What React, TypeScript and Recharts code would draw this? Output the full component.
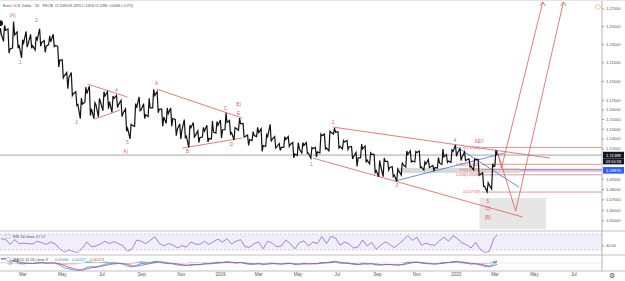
import React from 'react';
import { ComposedChart, LineChart, Line, Area, XAxis, YAxis, ReferenceLine, ReferenceArea, ReferenceDot } from 'recharts';

// ---------- price data (weekly) ----------
const dates = [
  '2018-01-26','2018-02-02','2018-02-09','2018-02-16','2018-02-23','2018-03-02','2018-03-09','2018-03-16','2018-03-23','2018-03-30',
  '2018-04-06','2018-04-13','2018-04-20','2018-04-27','2018-05-04','2018-05-11','2018-05-18','2018-05-25','2018-06-01','2018-06-08',
  '2018-06-15','2018-06-22','2018-06-29','2018-07-06','2018-07-13','2018-07-20','2018-07-27','2018-08-03','2018-08-10','2018-08-17',
  '2018-08-24','2018-08-31','2018-09-07','2018-09-14','2018-09-21','2018-09-28','2018-10-05','2018-10-12','2018-10-19','2018-10-26',
  '2018-11-02','2018-11-09','2018-11-16','2018-11-23','2018-11-30','2018-12-07','2018-12-14','2018-12-21','2018-12-28',
  '2019-01-04','2019-01-11','2019-01-18','2019-01-25','2019-02-01','2019-02-08','2019-02-15','2019-02-22','2019-03-01','2019-03-08',
  '2019-03-15','2019-03-22','2019-03-29','2019-04-05','2019-04-12','2019-04-19','2019-04-26','2019-05-03','2019-05-10','2019-05-17',
  '2019-05-24','2019-05-31','2019-06-07','2019-06-14','2019-06-21','2019-06-28','2019-07-05','2019-07-12','2019-07-19','2019-07-26',
  '2019-08-02','2019-08-09','2019-08-16','2019-08-23','2019-08-30','2019-09-06','2019-09-13','2019-09-20','2019-09-27','2019-10-04',
  '2019-10-11','2019-10-18','2019-10-25','2019-11-01','2019-11-08','2019-11-15','2019-11-22','2019-11-29','2019-12-06','2019-12-13',
  '2019-12-20','2019-12-27',
  '2020-01-03','2020-01-10','2020-01-17','2020-01-24','2020-01-31','2020-02-07','2020-02-14','2020-02-21','2020-02-28','2020-03-04',
];
const highs = [
  1.2537,1.2522,1.2473,1.2556,1.2441,1.2353,1.2446,1.2413,1.2388,1.2476,
  1.2343,1.2396,1.2414,1.2282,1.2132,1.1996,1.1995,1.1790,1.1725,1.1840,
  1.1852,1.1675,1.1720,1.1790,1.1790,1.1745,1.1750,1.1700,1.1610,1.1450,
  1.1665,1.1735,1.1665,1.1720,1.1815,1.1790,1.1610,1.1620,1.1620,1.1500,
  1.1455,1.1500,1.1440,1.1470,1.1385,1.1420,1.1440,1.1485,1.1480,
  1.1495,1.1570,1.1490,1.1415,1.1514,1.1460,1.1340,1.1375,1.1420,1.1405,
  1.1345,1.1450,1.1325,1.1255,1.1325,1.1325,1.1265,1.1265,1.1265,1.1265,
  1.1215,1.1215,1.1350,1.1350,1.1380,1.1412,1.1375,1.1285,1.1285,1.1225,
  1.1165,1.1250,1.1230,1.1160,1.1145,1.1085,1.1110,1.1075,1.1025,1.1000,
  1.1065,1.1180,1.1180,1.1175,1.1180,1.1070,1.1095,1.1035,1.1115,1.1200,
  1.1145,1.1190,
  1.1239,1.1205,1.1170,1.1100,1.1100,1.1095,1.0965,1.0865,1.1053,1.1188,
];
const lows = [
  1.2216,1.2335,1.2206,1.2261,1.2260,1.2154,1.2272,1.2259,1.2240,1.2282,
  1.2215,1.2300,1.2278,1.2054,1.1937,1.1822,1.1750,1.1645,1.1510,1.1680,
  1.1541,1.1509,1.1527,1.1590,1.1612,1.1575,1.1625,1.1530,1.1380,1.1301,
  1.1430,1.1590,1.1510,1.1530,1.1620,1.1570,1.1430,1.1460,1.1430,1.1335,
  1.1300,1.1315,1.1216,1.1320,1.1265,1.1320,1.1270,1.1300,1.1360,
  1.1310,1.1395,1.1350,1.1290,1.1390,1.1320,1.1235,1.1285,1.1325,1.1175,
  1.1225,1.1275,1.1210,1.1185,1.1215,1.1225,1.1110,1.1135,1.1160,1.1155,
  1.1107,1.1120,1.1160,1.1200,1.1180,1.1350,1.1210,1.1200,1.1195,1.1100,
  1.1025,1.1110,1.1065,1.1050,1.0965,1.0925,1.0925,1.0990,1.0925,1.0879,
  1.0940,1.1020,1.1070,1.1070,1.1015,1.0990,1.1015,1.0980,1.1010,1.1045,
  1.1065,1.1065,
  1.1125,1.1085,1.1085,1.1020,1.0990,1.0940,1.0830,1.0778,1.0805,1.1030,
];
const closes = [
  1.2427,1.2459,1.2252,1.2406,1.2295,1.2317,1.2307,1.2288,1.2353,1.2324,
  1.2282,1.2330,1.2289,1.2130,1.1960,1.1940,1.1770,1.1655,1.1660,1.1770,
  1.1610,1.1655,1.1685,1.1745,1.1685,1.1720,1.1655,1.1565,1.1410,1.1440,
  1.1620,1.1600,1.1550,1.1620,1.1750,1.1605,1.1525,1.1560,1.1510,1.1400,
  1.1385,1.1330,1.1415,1.1335,1.1315,1.1380,1.1305,1.1370,1.1440,
  1.1395,1.1470,1.1365,1.1410,1.1455,1.1325,1.1295,1.1335,1.1365,1.1235,
  1.1325,1.1300,1.1220,1.1215,1.1295,1.1245,1.1150,1.1200,1.1235,1.1160,
  1.1205,1.1170,1.1335,1.1210,1.1370,1.1370,1.1225,1.1270,1.1220,1.1125,
  1.1110,1.1200,1.1090,1.1145,1.0985,1.1030,1.1075,1.1015,1.0940,1.0980,
  1.1040,1.1145,1.1080,1.1165,1.1020,1.1050,1.1020,1.1015,1.1060,1.1120,
  1.1080,1.1175,
  1.1160,1.1120,1.1090,1.1025,1.1095,1.0945,1.0830,1.0845,1.1026,1.11388,
];
const rsiValues = [
  58,57,44,56,46,47,46,45,52,48,
  44,50,45,33,25,30,26,24,35,50,
  38,40,45,52,46,51,46,40,27,33,
  55,52,46,54,63,47,40,46,43,35,
  41,37,50,45,44,52,44,51,57,
  50,58,45,52,56,38,37,46,50,33,
  52,47,38,40,55,46,33,48,53,40,
  50,46,64,46,64,60,42,50,45,35,
  38,55,40,49,32,42,50,44,36,45,
  55,66,54,62,42,47,43,42,53,62,
  52,66,
  58,48,43,35,49,32,24,26,58,67.37,
];
const macdValues = [
  0.0080,0.0075,0.0010,0.0030,-0.0005,-0.0015,-0.0005,-0.0008,0.0005,0.0008,
  -0.0005,0.0002,-0.0002,-0.0040,-0.0085,-0.0100,-0.0120,-0.0135,-0.0120,-0.0070,
  -0.0065,-0.0065,-0.0050,-0.0020,-0.0010,0.0000,-0.0005,-0.0020,-0.0055,-0.0070,
  -0.0040,-0.0010,-0.0005,0.0005,0.0030,0.0025,0.0000,-0.0010,-0.0015,-0.0035,
  -0.0040,-0.0045,-0.0030,-0.0025,-0.0025,-0.0010,-0.0010,0.0000,0.0015,
  0.0010,0.0025,0.0010,0.0000,0.0010,-0.0010,-0.0025,-0.0020,-0.0010,-0.0025,
  -0.0015,-0.0005,-0.0015,-0.0020,-0.0008,-0.0006,-0.0025,-0.0020,-0.0010,-0.0015,
  -0.0012,-0.0012,0.0010,0.0005,0.0020,0.0030,0.0000,-0.0005,-0.0008,-0.0025,
  -0.0030,-0.0010,-0.0015,-0.0012,-0.0035,-0.0035,-0.0025,-0.0025,-0.0035,-0.0035,
  -0.0020,0.0010,0.0015,0.0020,0.0000,-0.0012,-0.0015,-0.0020,-0.0008,0.0010,
  0.0010,0.0025,
  0.0025,0.0010,-0.0005,-0.0020,-0.0015,-0.0035,-0.0060,-0.0070,-0.0015,0.00227,
];
const signalValues = [
  0.0065,0.0072,0.0050,0.0035,0.0020,0.0005,-0.0005,-0.0007,-0.0004,0.0003,
  0.0001,0.0000,0.0000,-0.0015,-0.0045,-0.0075,-0.0095,-0.0115,-0.0122,-0.0100,
  -0.0085,-0.0075,-0.0062,-0.0045,-0.0028,-0.0015,-0.0010,-0.0012,-0.0025,-0.0050,
  -0.0055,-0.0040,-0.0025,-0.0010,0.0005,0.0018,0.0015,0.0002,-0.0008,-0.0018,
  -0.0030,-0.0038,-0.0038,-0.0032,-0.0028,-0.0020,-0.0015,-0.0010,-0.0002,
  0.0005,0.0012,0.0015,0.0008,0.0007,0.0002,-0.0010,-0.0017,-0.0015,-0.0018,
  -0.0020,-0.0012,-0.0012,-0.0016,-0.0014,-0.0010,-0.0015,-0.0019,-0.0015,-0.0014,
  -0.0013,-0.0012,-0.0004,0.0002,0.0008,0.0020,0.0015,0.0005,-0.0002,-0.0012,
  -0.0022,-0.0018,-0.0015,-0.0014,-0.0020,-0.0030,-0.0030,-0.0027,-0.0030,-0.0033,
  -0.0028,-0.0012,0.0005,0.0012,0.0010,0.0000,-0.0010,-0.0015,-0.0013,-0.0003,
  0.0005,0.0013,
  0.0020,0.0017,0.0008,-0.0005,-0.0012,-0.0020,-0.0038,-0.0055,-0.0048,-0.00213,
];

// ---------- axis ticks ----------
const PRICE_TICKS = [1.05, 1.06, 1.07, 1.08, 1.09, 1.12, 1.13, 1.14, 1.15, 1.16, 1.17, 1.19, 1.21, 1.23, 1.25, 1.27];
const TICK_DATES = ['2018-03-01','2018-05-01','2018-07-01','2018-09-01','2018-11-01','2019-01-01','2019-03-01','2019-05-01','2019-07-01','2019-09-01','2019-11-01','2020-01-01','2020-03-01','2020-05-01','2020-07-01'];
const TICK_LABELS = ['Mar','May','Jul','Sep','Nov','2019','Mar','May','Jul','Sep','Nov','2020','Mar','May','Jul'];

// ---------- drawings (anchored in date / price) ----------
const waveLabels = [
  { date: '2018-02-13', price: 1.2630, text: '(A)' },
  { date: '2018-03-22', price: 1.2573, text: '2' },
  { date: '2018-02-25', price: 1.2109, text: '1' },
  { date: '2018-05-23', price: 1.1474, text: '3' },
  { date: '2018-07-24', price: 1.1808, text: '4' },
  { date: '2018-08-10', price: 1.1269, text: '5' },
  { date: '2018-08-07', price: 1.1179, text: 'A)' },
  { date: '2018-09-24', price: 1.1883, text: 'A' },
  { date: '2018-11-11', price: 1.1179, text: 'B' },
  { date: '2019-01-09', price: 1.1619, text: 'C' },
  { date: '2019-01-29', price: 1.1660, text: 'B)' },
  { date: '2019-01-29', price: 1.1567, text: 'E' },
  { date: '2019-01-18', price: 1.1249, text: 'D' },
  { date: '2019-06-24', price: 1.1474, text: '2' },
  { date: '2019-05-22', price: 1.1049, text: '1' },
  { date: '2019-10-01', price: 1.0843, text: '3' },
  { date: '2019-12-30', price: 1.1290, text: '4' },
  { date: '2020-02-06', price: 1.1280, text: 'KEY' },
  { date: '2020-02-19', price: 1.0688, text: '5' },
  { date: '2020-02-19', price: 1.0621, text: 'C)' },
  { date: '2020-02-19', price: 1.0536, text: '(B)' },
];
const redLines = [
  [['2018-06-09', 1.1872], ['2018-08-10', 1.1734]],
  [['2018-06-20', 1.1504], ['2018-07-29', 1.1598]],
  [['2018-09-24', 1.1818], ['2019-02-04', 1.1515]],
  [['2018-11-03', 1.1209], ['2019-02-03', 1.1310]],
  [['2019-06-24', 1.1422], ['2020-05-25', 1.1109]],
  [['2019-05-24', 1.1109], ['2020-04-13', 1.0536]],
  [['2020-03-04', 1.1189], ['2020-03-11', 1.1010]],
  [['2020-03-11', 1.1010], ['2020-05-14', 1.2779]],
  [['2020-03-04', 1.1189], ['2020-04-02', 1.0593]],
  [['2020-04-02', 1.0593], ['2020-06-15', 1.2779]],
  // arrow heads
  [['2020-05-10', 1.2738], ['2020-05-14', 1.2779]],
  [['2020-05-18', 1.2733], ['2020-05-14', 1.2779]],
  [['2020-06-11', 1.2738], ['2020-06-15', 1.2779]],
  [['2020-06-19', 1.2733], ['2020-06-15', 1.2779]],
];
const blueLines = [
  [['2019-09-28', 1.0882], ['2020-03-16', 1.1159]],
  [['2020-01-02', 1.1219], ['2020-04-07', 1.0823]],
];
const fibLevels = [1.12148, 1.10469, 1.09949, 1.09430, 1.07749];
const fibNames = ['0', '0.382', '0.5', '0.618', '1'];
const FIB_START = '2020-02-09';
const targetBox = { from: '2020-02-06', to: '2020-05-19', low: 1.0423, high: 1.0717 };
const supportBand = { from: '2019-10-01', to: '2020-04-08', low: 1.0960, high: 1.1010 };
const LAST_PRICE = 1.11388;
const BLUE_LEVEL = 1.09870;

// ---------- helpers ----------
const dayOf = (s: string) => {
  const [y, m, d] = s.split('-').map(Number);
  return (Date.UTC(y, m - 1, d) - Date.UTC(2018, 0, 1)) / 86400000;
};
const X_DOMAIN: [number, number] = [23.4, 955.7];
const tickDays = TICK_DATES.map(dayOf);

const priceRows: { t: number; p: number }[] = [];
dates.forEach((d, i) => {
  const t = dayOf(d);
  const prev = i === 0 ? closes[0] : closes[i - 1];
  const up = closes[i] >= prev;
  priceRows.push({ t: t - 3.2, p: up ? lows[i] : highs[i] });
  priceRows.push({ t: t - 1.6, p: up ? highs[i] : lows[i] });
  priceRows.push({ t, p: closes[i] });
});
const rsiRows = dates.map((d, i) => ({ t: dayOf(d), r: rsiValues[i] }));
const macdRows = dates.map((d, i) => {
  const h = macdValues[i] - signalValues[i];
  return { t: dayOf(d), m: macdValues[i], s: signalValues[i], hp: h > 0 ? h : 0, hn: h < 0 ? h : 0 };
});

const FONT = 'Liberation Sans, Arial, sans-serif';
const RED = '#e05a5a';

const DotText = (props: any) => {
  const vb = props.viewBox || {};
  const cx = (vb.x || 0) + (vb.width || 0) / 2;
  const cy = (vb.y || 0) + (vb.height || 0) / 2;
  return (
    <text x={cx} y={cy + 1.5} textAnchor="middle" fontSize={4.6} fill={props.color} fontFamily={FONT}>{props.value}</text>
  );
};
const FibText = (props: any) => {
  const vb = props.viewBox || {};
  return (
    <text x={(vb.x || 0) - 1} y={(vb.y || 0) + 1.3} textAnchor="end" fontSize={3.6} fill={RED} fontFamily={FONT}>{props.value}</text>
  );
};
const PriceTag = (props: any) => {
  const vb = props.viewBox || {};
  const x = (vb.x || 0) + (vb.width || 0) + 1;
  const y = vb.y || 0;
  return (
    <g>
      <rect x={x} y={y - 3.3} width={21} height={6.6} fill={props.bg} />
      <text x={x + 10.5} y={y + 1.5} textAnchor="middle" fontSize={4.2} fill="#fff" fontFamily={FONT}>{props.value}</text>
      {props.sub ? (
        <g>
          <rect x={x} y={y + 3.3} width={21} height={6} fill={props.bg} />
          <text x={x + 10.5} y={y + 7.7} textAnchor="middle" fontSize={4} fill="#fff" fontFamily={FONT}>{props.sub}</text>
        </g>
      ) : null}
    </g>
  );
};

export default function App() {
  return (
    <div style={{ position: 'absolute', left: 0, top: 0, width: 625, height: 281, background: '#fff', overflow: 'hidden' }}>
      {/* main price pane */}
      <div style={{ position: 'absolute', left: 0, top: 0 }}>
        <ComposedChart width={625} height={231} data={priceRows} margin={{ top: 0, right: 0, bottom: 0, left: 0 }}>
          <XAxis dataKey="t" type="number" domain={X_DOMAIN} hide allowDataOverflow />
          <YAxis
            orientation="right"
            width={23}
            type="number"
            scale="log"
            domain={[1.0405, 1.2802]}
            allowDataOverflow
            ticks={PRICE_TICKS}
            interval={0}
            tickFormatter={(v: number) => v.toFixed(5)}
            tick={{ fontSize: 4, fill: '#555', fontFamily: FONT }}
            tickSize={2}
            tickMargin={2}
            axisLine={{ stroke: '#b5b5b5' }}
            tickLine={{ stroke: '#999' }}
          />
          <ReferenceArea x1={dayOf(targetBox.from)} x2={dayOf(targetBox.to)} y1={targetBox.low} y2={targetBox.high} fill="#e6e6e6" fillOpacity={1} stroke="none" ifOverflow="hidden" />
          <ReferenceArea x1={dayOf(supportBand.from)} x2={dayOf(supportBand.to)} y1={supportBand.low} y2={supportBand.high} fill="#cfcfcf" fillOpacity={0.8} stroke="none" ifOverflow="hidden" />
          <ReferenceLine segment={[{ x: dayOf(supportBand.to), y: BLUE_LEVEL }, { x: X_DOMAIN[1], y: BLUE_LEVEL }]} stroke="#c9bdf0" strokeWidth={3} ifOverflow="hidden" />
          <ReferenceLine y={LAST_PRICE} stroke="#8a8a8a" strokeWidth={0.8} ifOverflow="hidden" label={<PriceTag value="1.11388" sub="03:50:58" bg="#131722" />} />
          <ReferenceLine y={BLUE_LEVEL} stroke="none" ifOverflow="hidden" label={<PriceTag value="1.09870" bg="#2f5bff" />} />
          {fibLevels.map((lv, i) => (
            <ReferenceLine
              key={'fib' + i}
              segment={[{ x: dayOf(FIB_START), y: lv }, { x: X_DOMAIN[1], y: lv }]}
              stroke="#d96a6a"
              strokeWidth={0.7}
              ifOverflow="hidden"
              label={<FibText value={`${fibNames[i]}(${lv.toFixed(5)})`} />}
            />
          ))}
          {redLines.map((seg, i) => (
            <ReferenceLine
              key={'r' + i}
              segment={[{ x: dayOf(seg[0][0] as string), y: seg[0][1] as number }, { x: dayOf(seg[1][0] as string), y: seg[1][1] as number }]}
              stroke={RED}
              strokeWidth={0.8}
              ifOverflow="hidden"
            />
          ))}
          {blueLines.map((seg, i) => (
            <ReferenceLine
              key={'b' + i}
              segment={[{ x: dayOf(seg[0][0] as string), y: seg[0][1] as number }, { x: dayOf(seg[1][0] as string), y: seg[1][1] as number }]}
              stroke="#3f6fd8"
              strokeWidth={0.8}
              ifOverflow="hidden"
            />
          ))}
          <Line dataKey="p" type="linear" stroke="#111" strokeWidth={1.2} dot={false} isAnimationActive={false} />
          {waveLabels.map((l, i) => (
            <ReferenceDot key={'w' + i} x={dayOf(l.date)} y={l.price} r={1} fill="none" stroke="none" label={<DotText value={l.text} color={RED} />} />
          ))}
        </ComposedChart>
      </div>

      {/* RSI pane */}
      <div style={{ position: 'absolute', left: 0, top: 231 }}>
        <LineChart width={625} height={24} data={rsiRows} margin={{ top: 0, right: 0, bottom: 0, left: 0 }}>
          <XAxis dataKey="t" type="number" domain={X_DOMAIN} hide allowDataOverflow />
          <YAxis
            orientation="right"
            width={23}
            type="number"
            domain={[17.5, 77.5]}
            allowDataOverflow
            ticks={[40]}
            tickFormatter={(v: number) => v.toFixed(2)}
            tick={{ fontSize: 4, fill: '#555', fontFamily: FONT }}
            tickSize={2}
            tickMargin={2}
            axisLine={{ stroke: '#b5b5b5' }}
            tickLine={{ stroke: '#999' }}
          />
          <ReferenceArea y1={30} y2={70} fill="#9575cd" fillOpacity={0.13} stroke="none" />
          <ReferenceLine y={70} stroke="#c0b0e0" strokeDasharray="2 2" strokeWidth={0.6} />
          <ReferenceLine y={30} stroke="#c0b0e0" strokeDasharray="2 2" strokeWidth={0.6} />
          <Line dataKey="r" type="linear" stroke="#7e57c2" strokeWidth={0.7} dot={false} isAnimationActive={false} />
        </LineChart>
      </div>

      {/* MACD pane + date axis */}
      <div style={{ position: 'absolute', left: 0, top: 255 }}>
        <ComposedChart width={625} height={26} data={macdRows} margin={{ top: 0, right: 0, bottom: 0, left: 0 }}>
          <XAxis
            dataKey="t"
            type="number"
            domain={X_DOMAIN}
            allowDataOverflow
            ticks={tickDays}
            interval={0}
            tickFormatter={(v: number) => TICK_LABELS[tickDays.indexOf(v)] || ''}
            height={10}
            tick={{ fontSize: 4.5, fill: '#555', fontFamily: FONT }}
            tickLine={false}
            axisLine={false}
            tickSize={0}
            tickMargin={2}
          />
          <YAxis
            orientation="right"
            width={23}
            type="number"
            domain={[-0.014, 0.014]}
            allowDataOverflow
            ticks={[0]}
            tickFormatter={(v: number) => v.toFixed(5)}
            tick={{ fontSize: 4, fill: '#555', fontFamily: FONT }}
            tickSize={2}
            tickMargin={2}
            axisLine={{ stroke: '#b5b5b5' }}
            tickLine={{ stroke: '#999' }}
          />
          <ReferenceLine y={0} stroke="#ddd" strokeWidth={0.5} />
          <Area dataKey="hp" type="linear" baseValue={0} fill="#26a69a" fillOpacity={0.7} stroke="none" isAnimationActive={false} />
          <Area dataKey="hn" type="linear" baseValue={0} fill="#ef9a9a" fillOpacity={0.7} stroke="none" isAnimationActive={false} />
          <Line dataKey="m" type="linear" stroke="#2196f3" strokeWidth={0.8} dot={false} isAnimationActive={false} />
          <Line dataKey="s" type="linear" stroke="#c2418f" strokeWidth={0.8} dot={false} isAnimationActive={false} />
        </ComposedChart>
      </div>

      {/* overlay: separators, header and pane legends */}
      <svg width={625} height={281} style={{ position: 'absolute', left: 0, top: 0, pointerEvents: 'none' }} fontFamily={FONT}>
        <line x1={0} x2={625} y1={0.5} y2={0.5} stroke="#e4e4e4" />
        <line x1={0} x2={625} y1={231} y2={231} stroke="#b0b0b0" strokeWidth={0.8} />
        <line x1={0} x2={625} y1={255} y2={255} stroke="#b0b0b0" strokeWidth={0.8} />
        <line x1={0} x2={625} y1={271} y2={271} stroke="#b0b0b0" strokeWidth={0.8} />
        <text x={3} y={7} fontSize={4} fill="#444" textLength={50} lengthAdjust="spacingAndGlyphs">Euro / U.S. Dollar · 1D · FXCM</text>
        <text x={55} y={7} fontSize={4} fill="#444" textLength={78} lengthAdjust="spacingAndGlyphs">O1.11694 H1.11876 L1.10954 C1.11388 −0.00306 (−0.27%)</text>
        <circle cx={598} cy={7} r={2.4} fill="none" stroke="#f0a050" strokeWidth={0.6} />
        <rect x={6} y={234.5} width={4} height={3.5} rx={0.8} fill="#fff" stroke="#888" strokeWidth={0.4} />
        <text x={13} y={237.8} fontSize={3.8} fill="#444">RSI 14 close</text>
        <text x={36} y={237.8} fontSize={3.8} fill="#7e57c2">67.37</text>
        <rect x={6} y={257.5} width={4} height={3.5} rx={0.8} fill="#fff" stroke="#888" strokeWidth={0.4} />
        <text x={13} y={260.8} fontSize={3.8} fill="#444">MACD 12 26 close 9</text>
        <text x={55} y={260.8} fontSize={3.8} fill="#26a69a">0.00440</text>
        <text x={72} y={260.8} fontSize={3.8} fill="#2196f3">0.00227</text>
        <text x={89} y={260.8} fontSize={3.8} fill="#e0443a">-0.00213</text>
        <text x={612} y={278} fontSize={7} fill="#555" textAnchor="middle">⚙</text>
      </svg>
    </div>
  );
}
